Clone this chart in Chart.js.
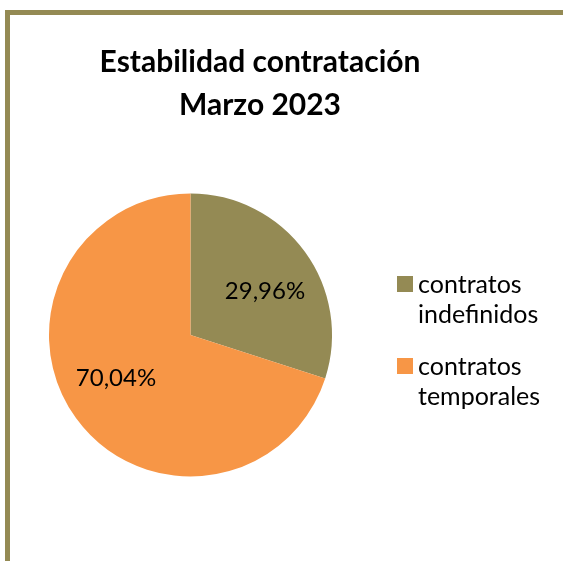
<!DOCTYPE html>
<html lang="es">
<head>
<meta charset="utf-8">
<title>Estabilidad contratación</title>
<script src="https://cdn.jsdelivr.net/npm/chart.js@4.4.1/dist/chart.umd.min.js"></script>
<style>
  html, body { margin: 0; padding: 0; background: #fff; overflow: hidden; }
  #frame {
    position: absolute; left: 5px; top: 10px; width: 800px; height: 800px;
    border-left: 5px solid #948a54; border-top: 5px solid #948a54;
  }
  #wrap { position: absolute; left: 0; top: 0; width: 563px; height: 561px; }
</style>
</head>
<body>
<div id="frame"></div>
<div id="wrap"><canvas id="pie-chart"></canvas></div>
<script>
// pie data
const categories = [['contratos', 'indefinidos'], ['contratos', 'temporales']];
const shares = [29.96, 70.04];
const sliceColors = ['#948a54', '#f79646'];
const titleLines = ['Estabilidad contratación', 'Marzo 2023'];

const fmtPct = v => v.toFixed(2).replace('.', ',') + '%';

// legend as a layout box on the right, so the chart area leaves room for it
const sideLegend = {
  id: 'sideLegend',
  beforeInit(chart) {
    const box = {
      position: 'right', weight: 10, fullSize: false, options: {},
      top: 0, left: 0, right: 0, bottom: 0, width: 0, height: 0,
      isHorizontal: () => false,
      update(maxWidth, maxHeight) { this.width = 139; this.height = maxHeight; },
      draw() {
        const ctx = chart.ctx;
        const y0 = (this.top + this.bottom) / 2 - 59;
        ctx.save();
        ctx.font = '25px Lato';
        ctx.textBaseline = 'alphabetic';
        ctx.textAlign = 'left';
        categories.forEach((lines, i) => {
          const top = y0 + i * 82;
          ctx.fillStyle = sliceColors[i];
          ctx.fillRect(this.left + 16, top, 16, 16);
          ctx.fillStyle = '#000';
          lines.forEach((t, j) => ctx.fillText(t, this.left + 37, top + 17 + j * 30));
        });
        ctx.restore();
      }
    };
    Chart.layouts.addBox(chart, box);
  }
};

// percentage text inside each slice
const sliceLabels = {
  id: 'sliceLabels',
  afterDatasetsDraw(chart) {
    const ctx = chart.ctx;
    const meta = chart.getDatasetMeta(0);
    ctx.save();
    ctx.font = '24px Lato';
    ctx.fillStyle = '#000';
    ctx.textAlign = 'center';
    ctx.textBaseline = 'middle';
    meta.data.forEach((arc, i) => {
      const { x, y, startAngle, endAngle, outerRadius } =
        arc.getProps(['x', 'y', 'startAngle', 'endAngle', 'outerRadius'], true);
      const mid = (startAngle + endAngle) / 2 + 0.1;
      const r = outerRadius * 0.61;
      ctx.fillText(fmtPct(shares[i]), x + Math.cos(mid) * r, y + Math.sin(mid) * r);
    });
    ctx.restore();
  }
};

const chart = new Chart(document.getElementById('pie-chart'), {
  type: 'pie',
  data: {
    labels: categories.map(l => l.join(' ')),
    datasets: [{
      data: shares,
      backgroundColor: sliceColors,
      borderWidth: 0
    }]
  },
  options: {
    responsive: true,
    maintainAspectRatio: false,
    animation: false,
    layout: { padding: { top: 0, left: 0, right: 43, bottom: 84.5 } },
    plugins: {
      legend: { display: false },
      tooltip: { enabled: false },
      title: {
        display: true,
        text: titleLines,
        color: '#000',
        font: { family: 'Lato', size: 30, weight: 'bold', lineHeight: '43px' },
        padding: { top: 41, bottom: 66.5 }
      }
    }
  },
  plugins: [sideLegend, sliceLabels]
});
</script>
</body>
</html>
